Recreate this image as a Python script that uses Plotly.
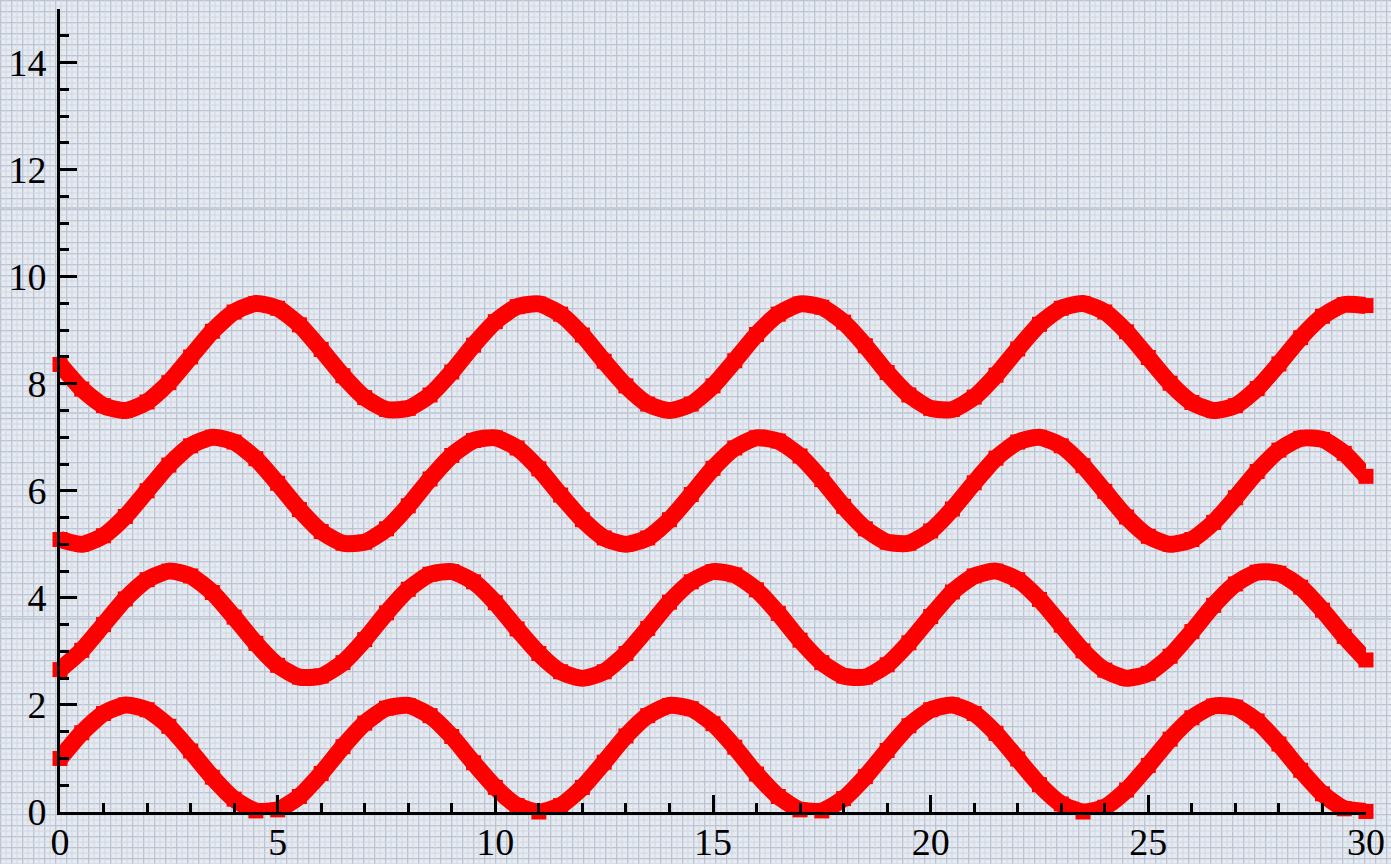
import base64
import plotly.graph_objects as go

x = [i * 0.5 for i in range(61)]

y1 = [1.00, 1.48, 1.84, 2.00, 1.91, 1.60, 1.14, 0.65, 0.24, 0.02,
      0.04, 0.29, 0.72, 1.22, 1.66, 1.94, 1.99, 1.80, 1.41, 0.92,
      0.46, 0.12, 0.00, 0.12, 0.46, 0.93, 1.42, 1.80, 1.99, 1.93,
      1.65, 1.21, 0.71, 0.29, 0.04, 0.02, 0.25, 0.66, 1.15, 1.61,
      1.91, 2.00, 1.84, 1.47, 0.99, 0.51, 0.15, 0.00, 0.09, 0.41,
      0.87, 1.36, 1.76, 1.98, 1.96, 1.70, 1.27, 0.78, 0.34, 0.06,
      0.01]

y2 = [2.66, 3.02, 3.50, 3.98, 4.34, 4.50, 4.41, 4.10, 3.64, 3.15,
      2.74, 2.52, 2.54, 2.79, 3.22, 3.72, 4.16, 4.44, 4.49, 4.30,
      3.91, 3.42, 2.96, 2.62, 2.50, 2.62, 2.96, 3.43, 3.92, 4.30,
      4.49, 4.43, 4.15, 3.71, 3.21, 2.79, 2.54, 2.52, 2.75, 3.16,
      3.65, 4.11, 4.41, 4.50, 4.34, 3.97, 3.49, 3.01, 2.65, 2.50,
      2.59, 2.91, 3.37, 3.86, 4.26, 4.48, 4.46, 4.20, 3.77, 3.28,
      2.84]

y3 = [5.09, 5.00, 5.16, 5.52, 6.00, 6.48, 6.84, 7.00, 6.91, 6.60,
      6.14, 5.65, 5.24, 5.02, 5.04, 5.29, 5.72, 6.22, 6.66, 6.94,
      6.99, 6.80, 6.41, 5.92, 5.46, 5.12, 5.00, 5.12, 5.46, 5.93,
      6.42, 6.80, 6.99, 6.93, 6.65, 6.21, 5.71, 5.29, 5.04, 5.02,
      5.25, 5.66, 6.15, 6.61, 6.91, 7.00, 6.84, 6.47, 5.99, 5.51,
      5.15, 5.00, 5.09, 5.41, 5.87, 6.36, 6.76, 6.98, 6.96, 6.70,
      6.27]

y4 = [8.36, 7.90, 7.59, 7.50, 7.66, 8.02, 8.50, 8.98, 9.34, 9.50,
      9.41, 9.10, 8.64, 8.15, 7.74, 7.52, 7.54, 7.79, 8.22, 8.72,
      9.16, 9.44, 9.49, 9.30, 8.91, 8.42, 7.96, 7.62, 7.50, 7.62,
      7.96, 8.43, 8.92, 9.30, 9.49, 9.43, 9.15, 8.71, 8.21, 7.79,
      7.54, 7.52, 7.75, 8.16, 8.65, 9.11, 9.41, 9.50, 9.34, 8.97,
      8.49, 8.01, 7.65, 7.50, 7.59, 7.91, 8.37, 8.86, 9.26, 9.48,
      9.46]

series = [y1, y2, y3, y4]

W, H = 1391, 864
ML, MR, MT, MB = 60, 25, 9, 52

# background graph-paper texture (styling only)
svg = f'''<svg xmlns="http://www.w3.org/2000/svg" width="{W}" height="{H}" viewBox="0 0 {W} {H}" preserveAspectRatio="none">
<defs>
<pattern id="p" width="11" height="11" patternUnits="userSpaceOnUse">
<rect width="11" height="11" fill="#e6eaf1"/>
<rect x="0" y="0" width="1.3" height="11" fill="#bcc4d3"/>
<rect x="0" y="0" width="11" height="1.3" fill="#bcc4d3"/>
<rect x="5.5" y="0" width="1" height="11" fill="#d0d6e2"/>
<rect x="0" y="5.5" width="11" height="1" fill="#d0d6e2"/>
</pattern>
</defs>
<rect width="{W}" height="{H}" fill="url(#p)"/>
<rect x="0" y="207" width="{W}" height="2" fill="#c6cdda"/>
<rect x="0" y="412" width="{W}" height="2" fill="#c6cdda"/>
<rect x="0" y="618" width="{W}" height="2" fill="#c6cdda"/>
</svg>'''
src = "data:image/svg+xml;base64," + base64.b64encode(svg.encode()).decode()

pw = W - ML - MR
ph = H - MT - MB

fig = go.Figure()
for ys in series:
    fig.add_trace(go.Scatter(
        x=x, y=ys, mode="lines+markers",
        line=dict(color="#ff0000", width=17, shape="spline", smoothing=0.6),
        marker=dict(symbol="square", size=15, color="#ff0000"),
        cliponaxis=False, showlegend=False, hoverinfo="skip",
    ))

fig.add_layout_image(dict(
    source=src, xref="paper", yref="paper",
    x=-ML / pw, y=1 + MT / ph, sizex=W / pw, sizey=H / ph,
    sizing="stretch", xanchor="left", yanchor="top", layer="below",
))

axis_font = dict(family="Liberation Serif", size=38, color="#000000")
fig.update_layout(
    width=W, height=H,
    margin=dict(l=ML, r=MR, t=MT, b=MB),
    paper_bgcolor="rgba(0,0,0,0)",
    plot_bgcolor="rgba(0,0,0,0)",
    showlegend=False,
    xaxis=dict(
        range=[0, 30], dtick=5, tick0=0, showgrid=False, zeroline=False,
        showline=True, linecolor="#000000", linewidth=3, automargin=False,
        ticks="inside", ticklen=17, tickwidth=3, tickcolor="#000000",
        minor=dict(dtick=1, ticks="inside", ticklen=9, tickwidth=3, tickcolor="#000000", showgrid=False),
        tickfont=axis_font, ticklabelstandoff=-6,
    ),
    yaxis=dict(
        range=[0, 15], dtick=2, tick0=0, showgrid=False, zeroline=False,
        showline=True, linecolor="#000000", linewidth=3, automargin=False,
        ticks="inside", ticklen=17, tickwidth=3, tickcolor="#000000",
        minor=dict(dtick=0.5, ticks="inside", ticklen=9, tickwidth=3, tickcolor="#000000", showgrid=False),
        tickfont=axis_font, ticklabelstandoff=3,
    ),
)

fig.write_html("out.html", config={"displayModeBar": False},
               post_script="document.body.style.margin='0';document.body.style.background='#e6eaf1';")
